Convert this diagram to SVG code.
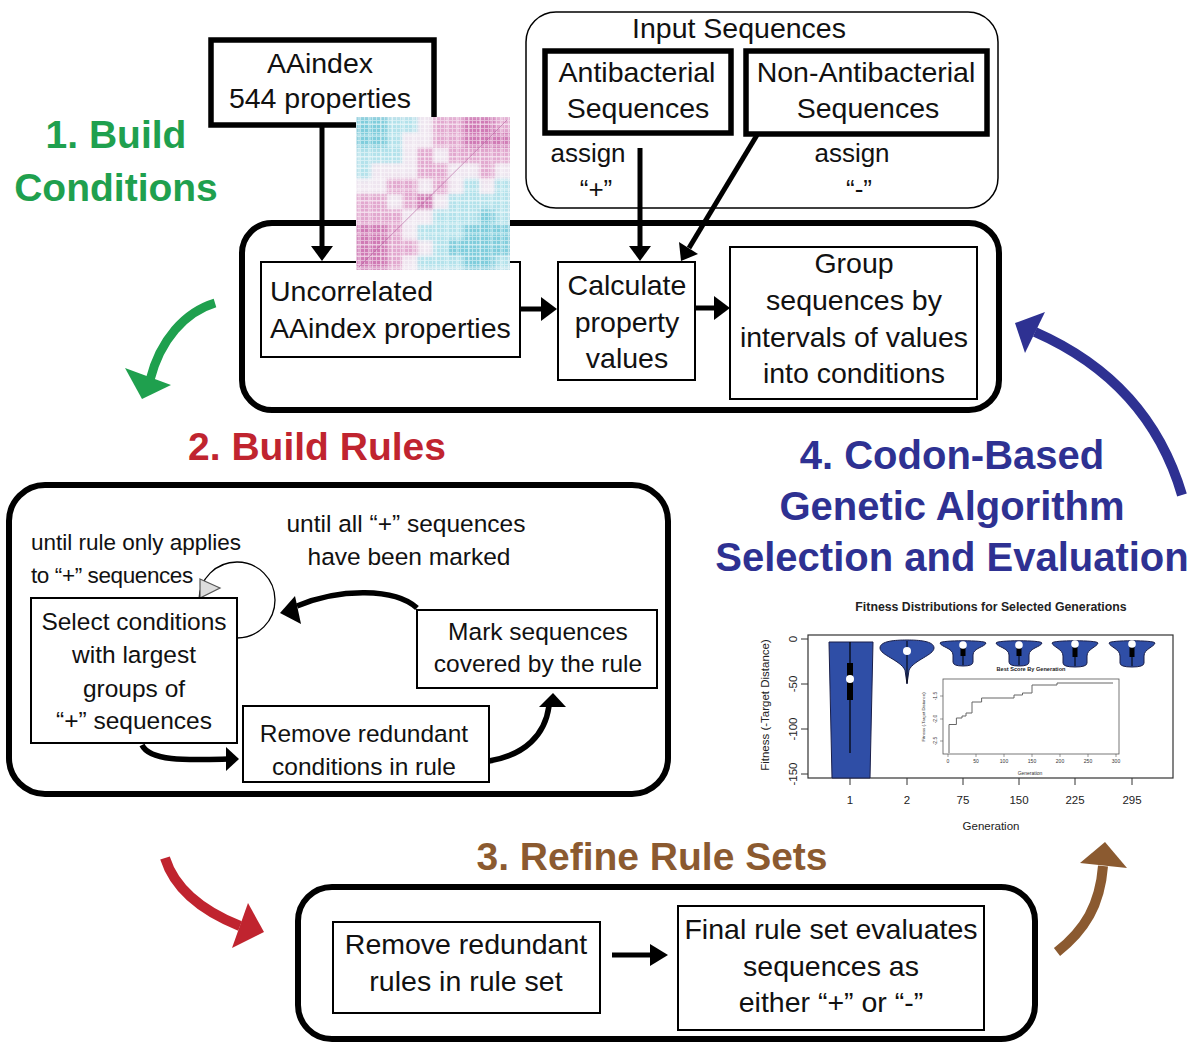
<svg xmlns="http://www.w3.org/2000/svg" xmlns:xlink="http://www.w3.org/1999/xlink" width="1195" height="1046" viewBox="0 0 1195 1046">
<style>
text{font-family:"Liberation Sans",Arial,sans-serif;fill:#111}
.t29{font-size:28.5px;text-anchor:middle}
.t25{font-size:24.5px;text-anchor:middle}
.h{font-weight:bold;font-size:39px;text-anchor:middle}
.outer{fill:none;stroke:#000;stroke-width:6}
.thin{fill:#fff;stroke:#000;stroke-width:2}
.thick{fill:#fff;stroke:#000;stroke-width:5.5}
.ln{stroke:#000;stroke-width:5;fill:none}
.ah{fill:#000}
.c2{fill:#7fcddc}.c1{fill:#b3e2eb}.c0{fill:#efe6f0}.p1{fill:#e2a8cf}.p2{fill:#d07ab5}
.vio{fill:#2f4ea6;stroke:#1a1f4a;stroke-width:1}
.ax{font-size:11.5px;text-anchor:middle;fill:#222}
.sm{font-size:5px;text-anchor:middle;fill:#333}
</style>
<defs>
<pattern id="hm" width="4" height="4" patternUnits="userSpaceOnUse">
<path d="M0,0.5H4M0.5,0V4" stroke="#fff" stroke-width="0.9" opacity="0.5"/>
</pattern>
<pattern id="hm2" width="11" height="11" patternUnits="userSpaceOnUse">
<path d="M0,3H11M7,0V11" stroke="#fff" stroke-width="1" opacity="0.55"/>
</pattern>
<filter id="soft" x="0" y="0" width="1" height="1"><feGaussianBlur stdDeviation="2.5" edgeMode="duplicate"/></filter>
<clipPath id="hmclip"><rect x="356" y="117" width="154" height="153"/></clipPath>
<g id="cells">
<rect class="c2" x="356" y="117" width="15.6" height="15.6"/><rect class="c2" x="371.4" y="117" width="15.6" height="15.6"/><rect class="c1" x="386.8" y="117" width="15.6" height="15.6"/><rect class="c1" x="402.2" y="117" width="15.6" height="15.6"/><rect class="c0" x="417.6" y="117" width="15.6" height="15.6"/><rect class="p1" x="433" y="117" width="15.6" height="15.6"/><rect class="p1" x="448.4" y="117" width="15.6" height="15.6"/><rect class="p2" x="463.8" y="117" width="15.6" height="15.6"/><rect class="p2" x="479.2" y="117" width="15.6" height="15.6"/><rect class="p1" x="494.6" y="117" width="15.4" height="15.6"/>
<rect class="c2" x="356" y="132.4" width="15.6" height="15.6"/><rect class="c2" x="371.4" y="132.4" width="15.6" height="15.6"/><rect class="c1" x="386.8" y="132.4" width="15.6" height="15.6"/><rect class="c0" x="402.2" y="132.4" width="15.6" height="15.6"/><rect class="c0" x="417.6" y="132.4" width="15.6" height="15.6"/><rect class="p1" x="433" y="132.4" width="15.6" height="15.6"/><rect class="p1" x="448.4" y="132.4" width="15.6" height="15.6"/><rect class="p2" x="463.8" y="132.4" width="15.6" height="15.6"/><rect class="p2" x="479.2" y="132.4" width="15.6" height="15.6"/><rect class="p2" x="494.6" y="132.4" width="15.4" height="15.6"/>
<rect class="c1" x="356" y="147.8" width="15.6" height="15.6"/><rect class="c1" x="371.4" y="147.8" width="15.6" height="15.6"/><rect class="c1" x="386.8" y="147.8" width="15.6" height="15.6"/><rect class="c0" x="402.2" y="147.8" width="15.6" height="15.6"/><rect class="p1" x="417.6" y="147.8" width="15.6" height="15.6"/><rect class="c0" x="433" y="147.8" width="15.6" height="15.6"/><rect class="p1" x="448.4" y="147.8" width="15.6" height="15.6"/><rect class="p1" x="463.8" y="147.8" width="15.6" height="15.6"/><rect class="p1" x="479.2" y="147.8" width="15.6" height="15.6"/><rect class="p1" x="494.6" y="147.8" width="15.4" height="15.6"/>
<rect class="c1" x="356" y="163.2" width="15.6" height="15.6"/><rect class="c0" x="371.4" y="163.2" width="15.6" height="15.6"/><rect class="c0" x="386.8" y="163.2" width="15.6" height="15.6"/><rect class="c0" x="402.2" y="163.2" width="15.6" height="15.6"/><rect class="p1" x="417.6" y="163.2" width="15.6" height="15.6"/><rect class="p1" x="433" y="163.2" width="15.6" height="15.6"/><rect class="c0" x="448.4" y="163.2" width="15.6" height="15.6"/><rect class="c0" x="463.8" y="163.2" width="15.6" height="15.6"/><rect class="p1" x="479.2" y="163.2" width="15.6" height="15.6"/><rect class="c0" x="494.6" y="163.2" width="15.4" height="15.6"/>
<rect class="c0" x="356" y="178.6" width="15.6" height="15.6"/><rect class="c0" x="371.4" y="178.6" width="15.6" height="15.6"/><rect class="p1" x="386.8" y="178.6" width="15.6" height="15.6"/><rect class="p1" x="402.2" y="178.6" width="15.6" height="15.6"/><rect class="c0" x="417.6" y="178.6" width="15.6" height="15.6"/><rect class="p1" x="433" y="178.6" width="15.6" height="15.6"/><rect class="c0" x="448.4" y="178.6" width="15.6" height="15.6"/><rect class="c1" x="463.8" y="178.6" width="15.6" height="15.6"/><rect class="c0" x="479.2" y="178.6" width="15.6" height="15.6"/><rect class="c1" x="494.6" y="178.6" width="15.4" height="15.6"/>
<rect class="p1" x="356" y="194" width="15.6" height="15.6"/><rect class="p1" x="371.4" y="194" width="15.6" height="15.6"/><rect class="c0" x="386.8" y="194" width="15.6" height="15.6"/><rect class="p1" x="402.2" y="194" width="15.6" height="15.6"/><rect class="p2" x="417.6" y="194" width="15.6" height="15.6"/><rect class="c0" x="433" y="194" width="15.6" height="15.6"/><rect class="c1" x="448.4" y="194" width="15.6" height="15.6"/><rect class="c1" x="463.8" y="194" width="15.6" height="15.6"/><rect class="c1" x="479.2" y="194" width="15.6" height="15.6"/><rect class="c1" x="494.6" y="194" width="15.4" height="15.6"/>
<rect class="p1" x="356" y="209.4" width="15.6" height="15.6"/><rect class="p1" x="371.4" y="209.4" width="15.6" height="15.6"/><rect class="p1" x="386.8" y="209.4" width="15.6" height="15.6"/><rect class="c0" x="402.2" y="209.4" width="15.6" height="15.6"/><rect class="c0" x="417.6" y="209.4" width="15.6" height="15.6"/><rect class="c1" x="433" y="209.4" width="15.6" height="15.6"/><rect class="c1" x="448.4" y="209.4" width="15.6" height="15.6"/><rect class="c1" x="463.8" y="209.4" width="15.6" height="15.6"/><rect class="c2" x="479.2" y="209.4" width="15.6" height="15.6"/><rect class="c1" x="494.6" y="209.4" width="15.4" height="15.6"/>
<rect class="p2" x="356" y="224.8" width="15.6" height="15.6"/><rect class="p2" x="371.4" y="224.8" width="15.6" height="15.6"/><rect class="p1" x="386.8" y="224.8" width="15.6" height="15.6"/><rect class="c0" x="402.2" y="224.8" width="15.6" height="15.6"/><rect class="c1" x="417.6" y="224.8" width="15.6" height="15.6"/><rect class="c1" x="433" y="224.8" width="15.6" height="15.6"/><rect class="c1" x="448.4" y="224.8" width="15.6" height="15.6"/><rect class="c2" x="463.8" y="224.8" width="15.6" height="15.6"/><rect class="c2" x="479.2" y="224.8" width="15.6" height="15.6"/><rect class="c2" x="494.6" y="224.8" width="15.4" height="15.6"/>
<rect class="p2" x="356" y="240.2" width="15.6" height="15.6"/><rect class="p2" x="371.4" y="240.2" width="15.6" height="15.6"/><rect class="p1" x="386.8" y="240.2" width="15.6" height="15.6"/><rect class="p1" x="402.2" y="240.2" width="15.6" height="15.6"/><rect class="c0" x="417.6" y="240.2" width="15.6" height="15.6"/><rect class="c1" x="433" y="240.2" width="15.6" height="15.6"/><rect class="c2" x="448.4" y="240.2" width="15.6" height="15.6"/><rect class="c2" x="463.8" y="240.2" width="15.6" height="15.6"/><rect class="c2" x="479.2" y="240.2" width="15.6" height="15.6"/><rect class="c2" x="494.6" y="240.2" width="15.4" height="15.6"/>
<rect class="p2" x="356" y="255.6" width="15.6" height="14.4"/><rect class="p2" x="371.4" y="255.6" width="15.6" height="14.4"/><rect class="p1" x="386.8" y="255.6" width="15.6" height="14.4"/><rect class="c0" x="402.2" y="255.6" width="15.6" height="14.4"/><rect class="c1" x="417.6" y="255.6" width="15.6" height="14.4"/><rect class="c1" x="433" y="255.6" width="15.6" height="14.4"/><rect class="c1" x="448.4" y="255.6" width="15.6" height="14.4"/><rect class="c2" x="463.8" y="255.6" width="15.6" height="14.4"/><rect class="c2" x="479.2" y="255.6" width="15.6" height="14.4"/><rect class="c1" x="494.6" y="255.6" width="15.4" height="14.4"/>
</g>
</defs>
<rect width="1195" height="1046" fill="#fff"/>

<!-- headings -->
<g id="h1"><text class="h" x="116" y="148" style="fill:#1fa04e">1. Build</text><text class="h" x="116" y="201" style="fill:#1fa04e">Conditions</text></g>
<g id="h2"><text class="h" x="317" y="460" style="fill:#c0242f">2. Build Rules</text></g>
<g id="h3"><text class="h" x="652" y="870" style="fill:#8b5a30">3. Refine Rule Sets</text></g>
<g id="h4"><text class="h" x="952" y="469" style="fill:#2e3192;font-size:40px">4. Codon-Based</text><text class="h" x="952" y="520" style="fill:#2e3192;font-size:40px">Genetic Algorithm</text><text class="h" x="952" y="571" style="fill:#2e3192;font-size:40px">Selection and Evaluation</text></g>

<!-- top inputs -->
<g id="aaindex"><rect class="thick" x="211" y="40" width="223" height="85"/><text class="t29" x="320" y="73">AAindex</text><text class="t29" x="320" y="108">544 properties</text></g>
<g id="input-sequences"><rect x="526" y="12" width="472" height="196" rx="30" fill="#fff" stroke="#000" stroke-width="1.5"/><text class="t29" x="739" y="38">Input Sequences</text>
<text style="font-size:26px;text-anchor:middle" x="588" y="162">assign</text><text style="font-size:26px;text-anchor:middle" x="596" y="198">“+”</text>
<text style="font-size:26px;text-anchor:middle" x="852" y="162">assign</text><text style="font-size:26px;text-anchor:middle" x="859" y="198">“-”</text></g>
<g id="antibacterial"><rect class="thick" x="545" y="51" width="186" height="82"/><text class="t29" x="637" y="82">Antibacterial</text><text class="t29" x="638" y="118">Sequences</text></g>
<g id="non-antibacterial"><rect class="thick" x="746" y="51" width="241" height="83"/><text class="t29" x="866" y="82">Non-Antibacterial</text><text class="t29" x="868" y="118">Sequences</text></g>

<!-- box 1 -->
<g id="build-conditions"><rect class="outer" x="242" y="223" width="757" height="187" rx="30"/></g>
<g id="uncorrelated"><rect class="thin" x="261" y="262" width="259" height="95"/><text style="font-size:28.5px" x="270" y="301">Uncorrelated</text><text style="font-size:28.5px" x="270" y="338">AAindex properties</text></g>
<g id="calculate"><rect class="thin" x="558" y="262" width="137" height="118"/><text class="t29" x="627" y="295">Calculate</text><text class="t29" x="627" y="332">property</text><text class="t29" x="627" y="368">values</text></g>
<g id="group"><rect class="thin" x="730" y="247" width="247" height="152"/><text class="t29" x="854" y="273">Group</text><text class="t29" x="854" y="310">sequences by</text><text class="t29" x="854" y="347">intervals of values</text><text class="t29" x="854" y="383">into conditions</text></g>

<!-- box 2 -->
<g id="build-rules"><rect class="outer" x="9" y="485" width="659" height="309" rx="36"/>
<text style="font-size:22.5px" x="31" y="550">until rule only applies</text><text style="font-size:22.5px;letter-spacing:-0.4px" x="31" y="583">to “+” sequences</text>
<text style="font-size:24.5px;text-anchor:middle" x="406" y="532">until all “+” sequences</text><text style="font-size:24.5px;text-anchor:middle" x="409" y="565">have been marked</text></g>
<g id="loop"><circle cx="237" cy="600" r="38" fill="none" stroke="#000" stroke-width="1.3"/><polygon points="200,579 220,588 200,598" fill="#ddd" stroke="#555" stroke-width="1.2"/></g>
<g id="select"><rect class="thin" x="31" y="598" width="206" height="145"/><text class="t25" x="134" y="630">Select conditions</text><text class="t25" x="134" y="663">with largest</text><text class="t25" x="134" y="697">groups of</text><text class="t25" x="134" y="729">“+” sequences</text></g>
<g id="mark"><rect class="thin" x="417" y="610" width="240" height="78"/><text class="t25" x="538" y="640">Mark sequences</text><text class="t25" x="538" y="672">covered by the rule</text></g>
<g id="remove-cond"><rect class="thin" x="243" y="706" width="246" height="76"/><text class="t25" x="364" y="742">Remove redundant</text><text class="t25" x="364" y="775">conditions in rule</text></g>

<!-- box 3 -->
<g id="refine"><rect class="outer" x="298" y="887" width="737" height="152" rx="34"/></g>
<g id="remove-rules"><rect class="thin" x="333" y="922" width="267" height="91"/><text class="t29" x="466" y="954">Remove redundant</text><text class="t29" x="466" y="991">rules in rule set</text></g>
<g id="final"><rect class="thin" x="678" y="906" width="306" height="124"/><text class="t29" x="831" y="939">Final rule set evaluates</text><text class="t29" x="831" y="976">sequences as</text><text class="t29" x="831" y="1012">either “+” or “-”</text></g>

<!-- connectors -->
<g id="connectors">
<line class="ln" x1="322" y1="125" x2="322" y2="248"/><polygon class="ah" points="311,246 333,246 322,261"/>
<line class="ln" x1="640" y1="148" x2="640" y2="248"/><polygon class="ah" points="629,246 651,246 640,261"/>
<line class="ln" x1="757" y1="135" x2="689" y2="248"/><polygon class="ah" points="698,254 679,242 681,261"/>
<line class="ln" x1="520" y1="309" x2="543" y2="309"/><polygon class="ah" points="541,297 541,321 557,309"/>
<line class="ln" x1="695" y1="308" x2="716" y2="308"/><polygon class="ah" points="714,296 714,320 730,308"/>
<path class="ln" style="stroke-width:5.5" d="M417,608 C395,588 340,588 297,606"/><polygon class="ah" points="280,613 295,596 301,624"/>
<path class="ln" style="stroke-width:5.5" d="M142,745 C150,762 190,760 228,759"/><polygon class="ah" points="226,747 226,771 239,759"/>
<path class="ln" style="stroke-width:5.5" d="M489,761 C525,755 545,735 549,706"/><polygon class="ah" points="539,707 566,707 553,693"/>
<line class="ln" x1="612" y1="955" x2="652" y2="955"/><polygon class="ah" points="650,944 650,966 668,955"/>
<path d="M215,303 C185,312 160,340 150,380" fill="none" stroke="#1fa04e" stroke-width="9"/><polygon points="125,368 171,385 142,399" fill="#1fa04e"/>
<path d="M165,858 C175,890 205,912 240,926" fill="none" stroke="#c0242f" stroke-width="10"/><polygon points="248,903 264,932 232,948" fill="#c0242f"/>
<path d="M1057,952 C1085,930 1100,905 1103,866" fill="none" stroke="#8b5a30" stroke-width="10"/><polygon points="1105,842 1127,868 1080,863" fill="#8b5a30"/>
<path d="M1182,495 C1160,420 1110,365 1035,332" fill="none" stroke="#2e3192" stroke-width="10"/><polygon points="1045,312 1015,323 1025,353" fill="#2e3192"/>
</g>

<!-- heatmap -->
<g id="heatmap">
<rect x="356" y="117" width="154" height="153" fill="#efe6f0"/>
<g clip-path="url(#hmclip)"><use xlink:href="#cells" href="#cells" filter="url(#soft)"/><use xlink:href="#cells" href="#cells" opacity="0.4"/></g>
<rect x="356" y="117" width="154" height="153" fill="url(#hm)"/>
<rect x="356" y="117" width="154" height="153" fill="url(#hm2)"/>
<line x1="359" y1="267" x2="507" y2="120" stroke="#b5609e" stroke-width="1" opacity="0.6"/>
</g>

<!-- chart -->
<g id="chart">
<text x="991" y="611" style="font-size:12.3px;font-weight:bold;text-anchor:middle;fill:#222">Fitness Distributions for Selected Generations</text>
<rect x="808" y="635" width="365" height="143" fill="none" stroke="#333" stroke-width="1.2"/>
<path d="M801,639H808M801,684H808M801,729H808M801,774H808" stroke="#333" stroke-width="1"/>
<text class="ax" transform="rotate(-90 797 639)" x="797" y="639">0</text>
<text class="ax" transform="rotate(-90 797 684)" x="797" y="684">-50</text>
<text class="ax" transform="rotate(-90 797 729)" x="797" y="729">-100</text>
<text class="ax" transform="rotate(-90 797 774)" x="797" y="774">-150</text>
<text class="ax" transform="rotate(-90 769 705)" x="769" y="705">Fitness (-Target Distance)</text>
<path d="M850,778V785M907,778V785M963,778V785M1019,778V785M1075,778V785M1132,778V785" stroke="#333" stroke-width="1"/>
<text class="ax" x="850" y="804">1</text><text class="ax" x="907" y="804">2</text><text class="ax" x="963" y="804">75</text><text class="ax" x="1019" y="804">150</text><text class="ax" x="1075" y="804">225</text><text class="ax" x="1132" y="804">295</text>
<text class="ax" x="991" y="830">Generation</text>
<path class="vio" d="M829,642 L873,642 L870,778 L832,778 Z"/>
<line x1="850" y1="642" x2="850" y2="753" stroke="#000" stroke-width="1.2"/><rect x="847" y="663" width="6" height="37" fill="#000"/><circle cx="850" cy="679" r="4" fill="#fff"/>
<path class="vio" d="M907,640 C895,640 880,641 880,648 C880,655 900,660 905,670 L907,684 L909,670 C914,660 934,655 934,648 C934,641 919,640 907,640 Z"/>
<line x1="907" y1="641" x2="907" y2="683" stroke="#000" stroke-width="1"/><circle cx="907" cy="651" r="4" fill="#fff"/>
<path class="vio" d="M940,643 C940,640 986,640 986,643 C985,647 973,648 973,655 L973,662 Q973,666 963,666 Q953,666 953,662 L953,655 C953,648 941,647 940,643 Z"/><line x1="963" y1="642" x2="963" y2="665" stroke="#000"/><rect x="960.5" y="646" width="5" height="10" fill="#000"/><circle cx="963" cy="645" r="3.8" fill="#fff"/>
<path class="vio" d="M996,643 C996,640 1042,640 1042,643 C1041,647 1029,648 1029,655 L1029,662 Q1029,666 1019,666 Q1009,666 1009,662 L1009,655 C1009,648 997,647 996,643 Z"/><line x1="1019" y1="642" x2="1019" y2="665" stroke="#000"/><rect x="1016.5" y="646" width="5" height="10" fill="#000"/><circle cx="1019" cy="645" r="3.8" fill="#fff"/>
<path class="vio" d="M1052,643 C1052,640 1098,640 1098,643 C1097,647 1087,649 1087,656 L1087,663 Q1087,667 1075,667 Q1063,667 1063,663 L1063,656 C1063,649 1053,647 1052,643 Z"/><line x1="1075" y1="642" x2="1075" y2="666" stroke="#000"/><rect x="1072.5" y="646" width="5" height="11" fill="#000"/><circle cx="1075" cy="644" r="3.8" fill="#fff"/>
<path class="vio" d="M1109,643 C1109,640 1155,640 1155,643 C1154,647 1144,649 1144,656 L1144,663 Q1144,667 1132,667 Q1120,667 1120,663 L1120,656 C1120,649 1110,647 1109,643 Z"/><line x1="1132" y1="642" x2="1132" y2="666" stroke="#000"/><rect x="1129.5" y="646" width="5" height="11" fill="#000"/><circle cx="1132" cy="644" r="3.8" fill="#fff"/>
<text x="1031" y="671" style="font-size:5.6px;font-weight:bold;text-anchor:middle;fill:#222">Best Score By Generation</text>
<rect x="943" y="679" width="176" height="75" fill="#fff" stroke="#555" stroke-width="0.8"/>
<path d="M949,753 V724.5 H956.4 V718 H962 V716 H966 V713 H972 V702 H981.6 V698 H1014 V695 H1022.5 V693 H1032 V685 H1057 V683 H1113" fill="none" stroke="#666" stroke-width="1"/>
<path d="M948,754V757M976,754V757M1004,754V757M1032,754V757M1060,754V757M1088,754V757M1116,754V757M943,696H940M943,719H940M943,741H940" stroke="#555" stroke-width="0.6"/>
<text class="sm" x="948" y="763">0</text><text class="sm" x="976" y="763">50</text><text class="sm" x="1004" y="763">100</text><text class="sm" x="1032" y="763">150</text><text class="sm" x="1060" y="763">200</text><text class="sm" x="1088" y="763">250</text><text class="sm" x="1116" y="763">300</text>
<text class="sm" x="1030" y="775">Generation</text>
<text class="sm" transform="rotate(-90 937 696)" x="937" y="696">-1.5</text><text class="sm" transform="rotate(-90 937 719)" x="937" y="719">-2.0</text><text class="sm" transform="rotate(-90 937 741)" x="937" y="741">-2.5</text>
<text class="sm" style="font-size:4.3px" transform="rotate(-90 925 717)" x="925" y="717">Fitness (-Target Distance)</text>
</g>
</svg>
